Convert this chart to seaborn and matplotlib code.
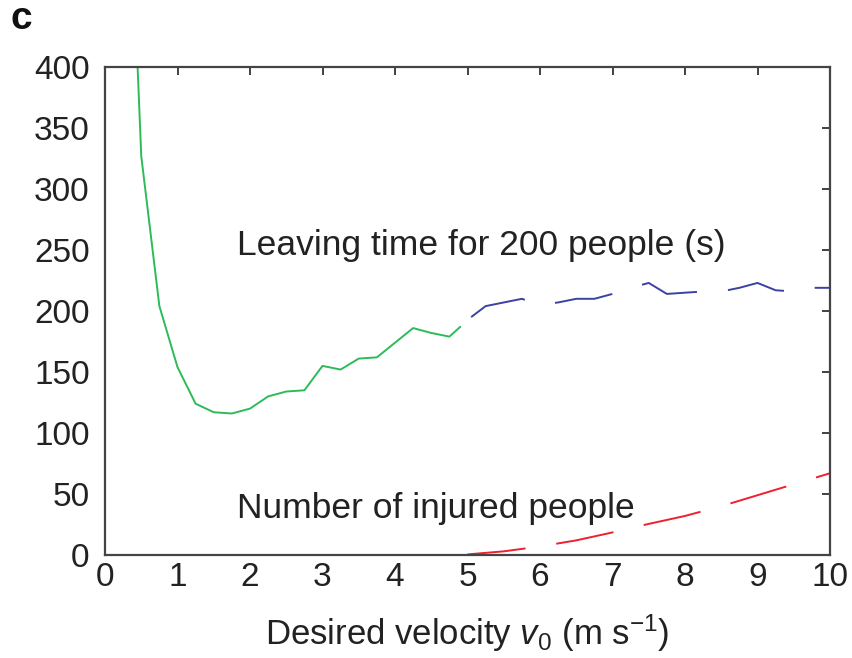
import numpy as np
import pandas as pd
import matplotlib
matplotlib.use("Agg")
import matplotlib.pyplot as plt
import seaborn as sns

# Leaving time for 200 people (s), low desired velocities (solid green)
v_low = [0.25, 0.5, 0.75, 1.0, 1.25, 1.5, 1.75, 2.0, 2.25, 2.5, 2.75, 3.0,
         3.25, 3.5, 3.75, 4.0, 4.25, 4.5, 4.75, 4.9]
t_low = [690, 327, 204, 154, 124, 117, 116, 120, 130, 134, 135, 155,
         152, 161, 162, 174, 186, 182, 179, 187]

# Leaving time for 200 people (s), high desired velocities (dashed blue)
v_high = [5.05, 5.25, 5.5, 5.75, 6.0, 6.25, 6.5, 6.75, 7.0, 7.25, 7.5, 7.75,
          8.0, 8.25, 8.5, 8.75, 9.0, 9.25, 9.5, 9.75, 10.0]
t_high = [195, 204, 207, 210, 205, 207, 210, 210, 214, 219, 223, 214,
          215, 216, 216, 219, 223, 217, 216, 219, 219]

# Number of injured people (dashed red)
v_inj = [5.0, 5.5, 6.0, 6.5, 7.0, 7.5, 8.0, 8.5, 9.0, 9.5, 10.0]
n_inj = [0.5, 3, 7, 12, 18.5, 25.5, 32, 40, 49, 58, 67]

x_ticks = list(range(0, 11))
y_ticks = list(range(0, 401, 50))

sns.set_theme(style="white")
plt.rcParams["font.family"] = ["Liberation Sans", "DejaVu Sans"]
plt.rcParams["mathtext.fontset"] = "custom"
plt.rcParams["mathtext.rm"] = "Liberation Sans"
plt.rcParams["mathtext.it"] = "Liberation Sans:italic"

fig = plt.figure(figsize=(8.52, 6.58), dpi=100)
ax = fig.add_axes([105 / 852, 1 - 555 / 658, 725 / 852, 488 / 658])

df_low = pd.DataFrame({"v": v_low, "t": t_low})
df_high = pd.DataFrame({"v": v_high, "t": t_high})
df_inj = pd.DataFrame({"v": v_inj, "n": n_inj})

dash = (0, (30, 16))
lw = 1.4
sns.lineplot(data=df_low, x="v", y="t", ax=ax, color="#2dbb5a", lw=lw)
sns.lineplot(data=df_high, x="v", y="t", ax=ax, color="#3c42a2", lw=lw,
             linestyle=dash)
sns.lineplot(data=df_inj, x="v", y="n", ax=ax, color="#ee2030", lw=lw,
             linestyle=dash)

ax.set_xlim(0, 10)
ax.set_ylim(0, 400)
ax.set_xticks(x_ticks)
ax.set_yticks(y_ticks)
ax.set_xticklabels([str(t) for t in x_ticks])
ax.set_yticklabels([str(t) for t in y_ticks])

ax.tick_params(direction="in", length=6, width=1.3, color="#333333",
               top=True, right=True, labelsize=24, labelcolor="#222222")
ax.tick_params(axis="y", pad=11)
ax.tick_params(axis="x", pad=5)
for s in ax.spines.values():
    s.set_color("#444444")
    s.set_linewidth(1.6)

ax.set_xlabel(r"Desired velocity $\mathit{v}_0$ (m s$^{-1}$)", fontsize=25,
              color="#222222", labelpad=14)
ax.set_ylabel("")

ax.text(1.82, 254, "Leaving time for 200 people (s)", fontsize=25.5,
        color="#222222", va="center", ha="left")
ax.text(1.82, 38, "Number of injured people", fontsize=25.5,
        color="#222222", va="center", ha="left")

fig.text(10 / 852, 1 - 19 / 658, "c", fontsize=28, fontweight="bold",
         color="#111111", va="center", ha="left")

fig.savefig("out.png", dpi=100)
